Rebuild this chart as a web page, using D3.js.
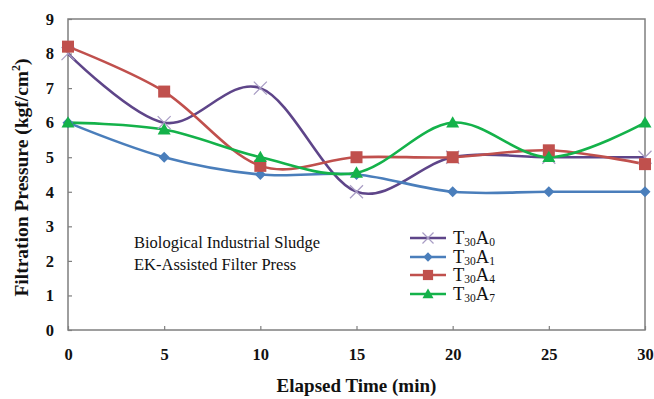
<!DOCTYPE html>
<html>
<head>
<meta charset="utf-8">
<script src="https://cdn.jsdelivr.net/npm/d3@7/dist/d3.min.js"></script>
<style>
  html, body { margin: 0; padding: 0; background: #fff; }
  svg { display: block; }
  text { font-family: "Liberation Serif", "Times New Roman", serif; }
</style>
</head>
<body>
<svg id="chart" width="654" height="399"></svg>
<script>
// Elapsed time (min)
const times = [0, 5, 10, 15, 20, 25, 30];
const xTicks = [0, 5, 10, 15, 20, 25, 30];
const yTicks = [0, 1, 2, 3, 4, 5, 6, 7, 8, 9];

// Filtration pressure (kgf/cm²) per run
const a0 = [8.0, 6.0, 7.0, 4.0, 5.0, 5.0, 5.0];
const a1 = [6.0, 5.0, 4.5, 4.5, 4.0, 4.0, 4.0];
const a4 = [8.2, 6.9, 4.75, 5.0, 5.0, 5.2, 4.8];
const a7 = [6.0, 5.8, 5.0, 4.55, 6.0, 5.0, 6.0];

const seriesNames = ["0", "1", "4", "7"];

const series = [
  { sub: seriesNames[0], values: a0, color: "#5e4589", markColor: "#a89cc4", marker: "x" },
  { sub: seriesNames[1], values: a1, color: "#4a7ebb", markColor: "#4a7ebb", marker: "diamond" },
  { sub: seriesNames[2], values: a4, color: "#c0504d", markColor: "#c0504d", marker: "square" },
  { sub: seriesNames[3], values: a7, color: "#14b24a", markColor: "#14b24a", marker: "triangle" }
];

const svg = d3.select("#chart");
const m = { left: 68, right: 645, top: 19, bottom: 330 };

const x = d3.scaleLinear().domain([0, 30]).range([m.left, m.right]);
const y = d3.scaleLinear().domain([0, 9]).range([m.bottom, m.top]);

// Plot frame
svg.append("rect")
  .attr("x", m.left).attr("y", m.top)
  .attr("width", m.right - m.left).attr("height", m.bottom - m.top)
  .attr("fill", "none").attr("stroke", "#7f7f7f").attr("stroke-width", 1.5);

// Axes with inward ticks
const yAxis = svg.append("g").attr("transform", `translate(${m.left},0)`)
  .call(d3.axisRight(y).tickValues(yTicks).tickSize(4).tickFormat(d3.format("d")));
yAxis.select(".domain").remove();
yAxis.selectAll("line").attr("stroke", "#7f7f7f").attr("stroke-width", 1.2);
yAxis.selectAll("text").attr("x", -14).attr("text-anchor", "end")
  .attr("font-size", 16.5).attr("font-weight", "bold").attr("fill", "#111");

const xAxis = svg.append("g").attr("transform", `translate(0,${m.bottom})`)
  .call(d3.axisTop(x).tickValues(xTicks).tickSize(4).tickFormat(d3.format("d")));
xAxis.select(".domain").remove();
xAxis.selectAll("line").attr("stroke", "#7f7f7f").attr("stroke-width", 1.2);
xAxis.selectAll("text").attr("y", 30).attr("dy", 0)
  .attr("font-size", 16.5).attr("font-weight", "bold").attr("fill", "#111");

// Axis titles
svg.append("text")
  .attr("transform", `translate(28,${(m.top + m.bottom) / 2 + 3}) rotate(-90)`)
  .attr("text-anchor", "middle").attr("font-size", 19.5).attr("font-weight", "bold")
  .attr("fill", "#111")
  .call(t => {
    t.append("tspan").text("Filtration Pressure (kgf/cm");
    t.append("tspan").attr("font-size", 12).attr("dy", -8).text("2");
    t.append("tspan").attr("dy", 8).text(")");
  });

svg.append("text")
  .attr("x", (m.left + m.right) / 2).attr("y", 392)
  .attr("text-anchor", "middle").attr("font-size", 19).attr("font-weight", "bold")
  .attr("fill", "#111")
  .text("Elapsed Time (min)");

// Smoothed lines
const line = d3.line()
  .x((d, i) => x(times[i]))
  .y(d => y(d))
  .curve(d3.curveCardinal.tension(0));

series.forEach(s => {
  svg.append("path")
    .datum(s.values)
    .attr("d", line)
    .attr("fill", "none")
    .attr("stroke", s.color)
    .attr("stroke-width", 2.6);
});

// Marker drawing
function drawMarker(g, type, cx, cy, s, big) {
  const k = big ? 1 : 0.85;
  if (type === "square") {
    const h = 6 * k;
    g.append("rect").attr("x", cx - h).attr("y", cy - h).attr("width", 2 * h).attr("height", 2 * h)
      .attr("fill", s.markColor);
  } else if (type === "diamond") {
    const h = 5.5 * k;
    g.append("path").attr("d", `M${cx},${cy - h}L${cx + h},${cy}L${cx},${cy + h}L${cx - h},${cy}Z`)
      .attr("fill", s.markColor);
  } else if (type === "triangle") {
    const h = 6.5 * k;
    g.append("path").attr("d", `M${cx},${cy - h}L${cx + h},${cy + h * 0.75}L${cx - h},${cy + h * 0.75}Z`)
      .attr("fill", s.markColor);
  } else if (type === "x") {
    const h = 6.5 * k;
    g.append("path").attr("d", `M${cx - h},${cy - h}L${cx + h},${cy + h}M${cx - h},${cy + h}L${cx + h},${cy - h}`)
      .attr("stroke", s.markColor).attr("stroke-width", 1.2).attr("fill", "none");
  }
}

series.forEach(s => {
  const g = svg.append("g");
  s.values.forEach((v, i) => drawMarker(g, s.marker, x(times[i]), y(v), s, true));
});

// Annotation
const note = svg.append("text").attr("font-size", 16.5).attr("fill", "#111");
note.append("tspan").attr("x", 134).attr("y", 248).text("Biological Industrial Sludge");
note.append("tspan").attr("x", 134).attr("y", 270).text("EK-Assisted Filter Press");

// Legend
const legendY = [238, 257, 275, 294];
series.forEach((s, i) => {
  const g = svg.append("g");
  const ly = legendY[i];
  g.append("line").attr("x1", 410).attr("x2", 446).attr("y1", ly).attr("y2", ly)
    .attr("stroke", s.color).attr("stroke-width", 2.6);
  drawMarker(g, s.marker, 428, ly, s, false);
  const t = g.append("text").attr("x", 453).attr("y", ly + 6).attr("font-size", 18.5).attr("fill", "#111");
  t.append("tspan").text("T");
  t.append("tspan").attr("font-size", 11.5).attr("dy", 2).text("30");
  t.append("tspan").attr("dy", -2).text("A");
  t.append("tspan").attr("font-size", 11.5).attr("dy", 2).text(s.sub);
});
</script>
</body>
</html>
